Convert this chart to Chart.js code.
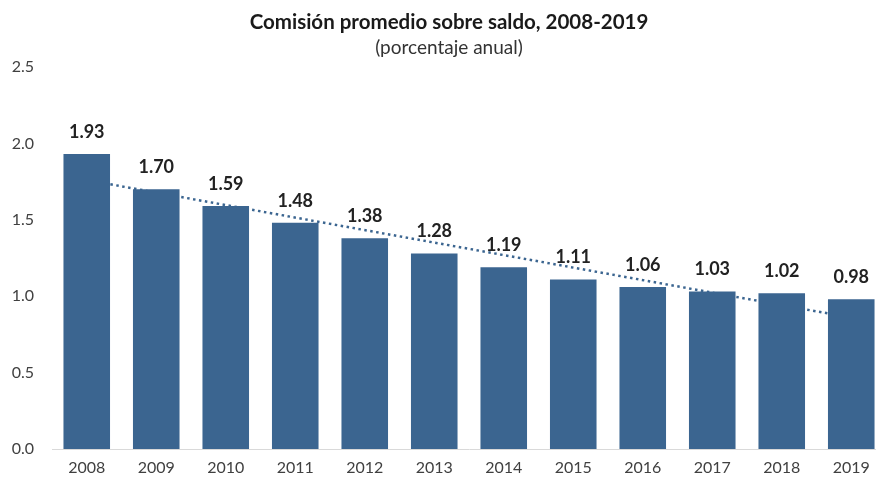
<!DOCTYPE html>
<html>
<head>
<meta charset="utf-8">
<script src="https://cdn.jsdelivr.net/npm/chart.js@4"></script>
<style>
  html, body { margin: 0; padding: 0; background: #fff; overflow: hidden; }
  #wrap { width: 886px; height: 483px; }
</style>
</head>
<body>
<div id="wrap"><canvas id="myChart"></canvas></div>
<script>
// years on the x axis
const years = ['2008', '2009', '2010', '2011', '2012', '2013', '2014', '2015', '2016', '2017', '2018', '2019'];
// average fee on balance, % per year
const fees = [1.93, 1.70, 1.59, 1.48, 1.38, 1.28, 1.19, 1.11, 1.06, 1.03, 1.02, 0.98];
// dotted trend line at both ends
const trend = [1.76, null, null, null, null, null, null, null, null, null, null, 0.86];
// y axis ticks
const yTicks = [0, 0.5, 1.0, 1.5, 2.0, 2.5];

const fontFam = 'Lato, "Open Sans", sans-serif';

// writes the value above each bar
const valueLabels = {
  id: 'valueLabels',
  afterDatasetsDraw(chart) {
    const ctx = chart.ctx;
    const meta = chart.getDatasetMeta(0);
    ctx.save();
    ctx.font = 'bold 18px ' + fontFam;
    ctx.fillStyle = '#222';
    ctx.textAlign = 'center';
    ctx.textBaseline = 'bottom';
    meta.data.forEach((bar, i) => {
      ctx.fillText(fees[i].toFixed(2), bar.x, bar.y - 13);
    });
    ctx.restore();
  }
};

const myChart = document.getElementById('myChart');

new Chart(myChart, {
  type: 'bar',
  data: {
    labels: years,
    datasets: [
      {
        label: 'Comisión',
        data: fees,
        backgroundColor: '#3b6590',
        categoryPercentage: 1,
        barPercentage: 0.67,
        order: 1
      },
      {
        type: 'line',
        label: 'Tendencia',
        data: trend,
        spanGaps: true,
        borderColor: '#3b6590',
        borderWidth: 2.5,
        borderDash: [2.5, 3.5],
        pointRadius: 0,
        fill: false,
        order: 2
      }
    ]
  },
  options: {
    responsive: true,
    maintainAspectRatio: false,
    animation: false,
    layout: { padding: { left: 12, right: 0, top: 5, bottom: 4 } },
    plugins: {
      legend: { display: false },
      tooltip: { enabled: false },
      title: {
        display: true,
        text: 'Comisión promedio sobre saldo, 2008-2019',
        color: '#1a1a1a',
        font: { family: fontFam, size: 20.5, weight: 'bold' },
        padding: { top: 5, bottom: 2 }
      },
      subtitle: {
        display: true,
        text: '(porcentaje anual)',
        color: '#333',
        font: { family: fontFam, size: 19 },
        padding: { bottom: 7.6 }
      }
    },
    scales: {
      x: {
        grid: { display: false, drawTicks: false },
        border: { color: '#d9d9d9', width: 1 },
        ticks: { color: '#404040', font: { family: fontFam, size: 16 }, padding: 9 },
        afterFit(axis) { axis.height = 30; }
      },
      y: {
        min: 0,
        max: 2.5,
        afterBuildTicks(axis) { axis.ticks = yTicks.map(v => ({ value: v })); },
        grid: { display: false, drawTicks: false },
        border: { display: false },
        ticks: {
          color: '#404040',
          font: { family: fontFam, size: 16 },
          padding: 18,
          callback: v => Number(v).toFixed(1)
        },
        afterFit(axis) { axis.width = 40; }
      }
    }
  },
  plugins: [valueLabels]
});
</script>
</body>
</html>
